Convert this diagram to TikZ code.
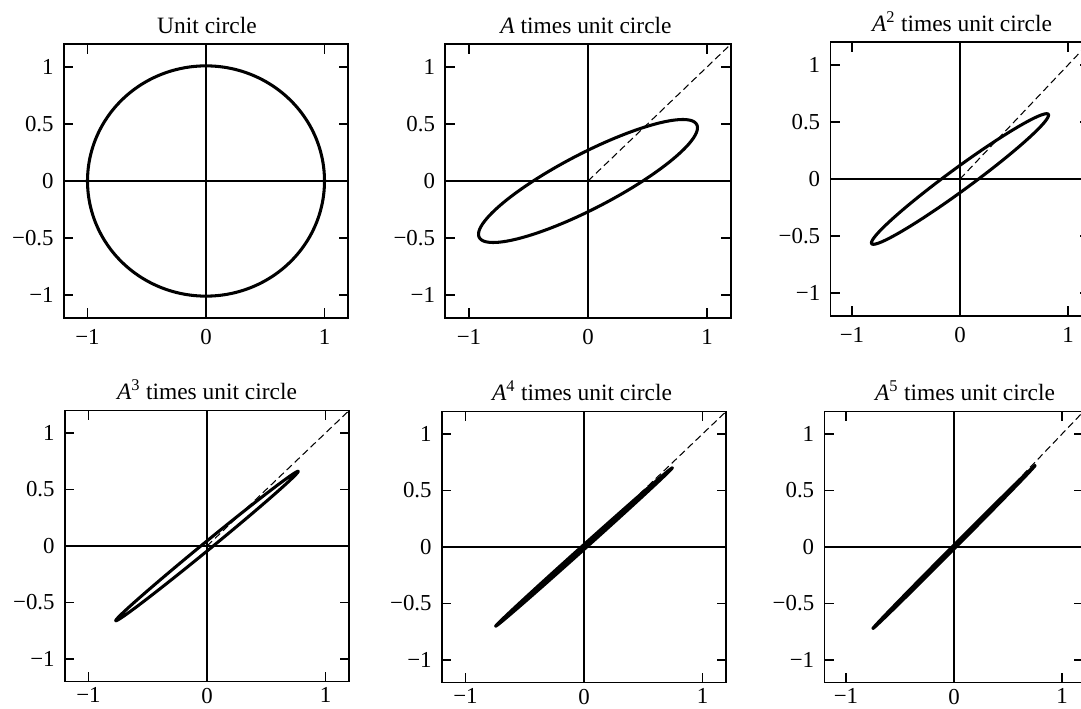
\documentclass[tikz,border=0pt]{standalone}
\usepackage{fontspec}
\setmainfont{Liberation Serif}
\tikzset{
  frame/.style={line width=1.4pt},
  axisline/.style={line width=1.1pt},
  tickline/.style={line width=1.1pt},
  curve/.style={line width=2.6pt, line join=round, line cap=round},
  dashline/.style={line width=0.9pt, dash pattern=on 6pt off 3.4pt},
  lab/.style={font=\fontsize{19.5}{22}\selectfont, inner sep=0pt},
  ttl/.style={font=\fontsize{20}{23}\selectfont, inner sep=0pt, anchor=base}
}
\newcommand\xlabgap{0.33cm}
% #1 cx, #2 cy (px), #3 ux, #4 uy (px per unit), #5 title dx (px), #6 title, #7 content
\newcommand\plotpanel[7]{%
\begin{scope}[shift={(#1,#2)}, x={(#3*0.03cm,0cm)}, y={(0cm,#4*0.03cm)}]
  #7
  \draw[axisline] (-1.2,0) -- (1.2,0);
  \draw[axisline] (0,-1.2) -- (0,1.2);
  \foreach \v in {-1,1}{
    \draw[tickline] (\v,-1.2) -- ++(0,0.28cm);
    \draw[tickline] (\v,1.2) -- ++(0,-0.28cm);
  }
  \foreach \v in {-1,-0.5,0.5,1}{
    \draw[tickline] (-1.2,\v) -- ++(0.28cm,0);
    \draw[tickline] (1.2,\v) -- ++(-0.28cm,0);
  }
  \draw[frame] (-1.2,-1.2) rectangle (1.2,1.2);
  \foreach \v/\l in {-1/−1,0/0,1/1}{
    \node[lab, anchor=north, yshift=-\xlabgap] at (\v,-1.2) {\l};
  }
  \foreach \v/\l in {-1/−1,-0.5/−0.5,0/0,0.5/0.5,1/1}{
    \node[lab, anchor=east, xshift=-0.3cm] at (-1.2,\v) {\l};
  }
  \node[ttl, yshift=0.32cm, xshift=#5*0.03cm] at (0,1.2) {#6};
\end{scope}}
\begin{document}
\begin{tikzpicture}[x=0.03cm,y=-0.03cm]
\useasboundingbox (0,0) rectangle (1081,709);
\clip (0,0) rectangle (1081,709);

\plotpanel{206}{181}{118.5}{114}{1}{Unit circle}{%
  \draw[curve] plot[domain=0:360, samples=200, variable=\t] ({1.0*cos(\t)},{1.01*sin(\t)}) -- cycle;}

\plotpanel{588}{181}{119}{114}{-2}{\textit{A} times unit circle}{%
  \coordinate (o2) at (0,0); \coordinate (d2) at (1.2,1.2);
  \draw[dashline] (o2) -- (d2);
  \draw[curve] plot[domain=0:360, samples=200, variable=\t] ({0.92*cos(\t)},{0.467*cos(\t)+0.27*sin(\t)}) -- cycle;}

\plotpanel{960}{179}{108}{114}{2}{\textit{A}\textsuperscript{2} times unit circle}{%
  \coordinate (o3) at (0,0); \coordinate (d3) at (1.2,1.2);
  \draw[dashline] (o3) -- (d3);
  \draw[curve] plot[domain=0:360, samples=200, variable=\t] ({0.82*cos(\t)},{0.56*cos(\t)+0.12*sin(\t)}) -- cycle;}

\renewcommand\xlabgap{0.18cm}

\plotpanel{207}{546}{118.5}{113}{0}{\textit{A}\textsuperscript{3} times unit circle}{%
  \coordinate (o4) at (0,0); \coordinate (d4) at (1.2,1.2);
  \draw[dashline] (o4) -- (d4);
  \draw[curve] plot[domain=0:360, samples=200, variable=\t] ({0.77*cos(\t)},{0.66*cos(\t)+0.045*sin(\t)}) -- cycle;}

\plotpanel{584}{547}{118.5}{113}{-2}{\textit{A}\textsuperscript{4} times unit circle}{%
  \coordinate (o5) at (0,0); \coordinate (d5) at (1.2,1.2);
  \draw[dashline] (o5) -- (d5);
  \draw[curve, fill=black] plot[domain=0:360, samples=200, variable=\t] ({0.745*cos(\t)},{0.70*cos(\t)+0.022*sin(\t)}) -- cycle;}

\plotpanel{954}{547}{108}{113}{11}{\textit{A}\textsuperscript{5} times unit circle}{%
  \coordinate (o6) at (0,0); \coordinate (d6) at (1.2,1.2);
  \draw[dashline] (o6) -- (d6);
  \draw[curve, fill=black] plot[domain=0:360, samples=200, variable=\t] ({0.75*cos(\t)},{0.72*cos(\t)+0.018*sin(\t)}) -- cycle;}
\end{tikzpicture}
\end{document}
